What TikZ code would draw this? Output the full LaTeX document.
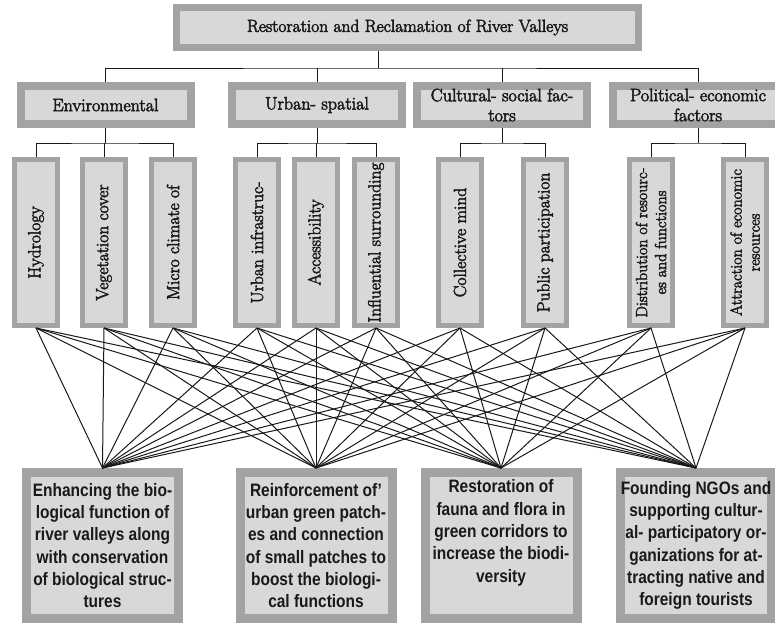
\documentclass[tikz,border=0pt]{standalone}
\usepackage{fontspec}
\usepackage{tikz}
\setmainfont{Latin Modern Roman}[FakeBold=3]
\newfontfamily\goalfont[FakeStretch=0.86]{Liberation Sans}

\definecolor{boxrim}{RGB}{163,163,163}
\definecolor{boxfill}{RGB}{216,216,216}
\tikzset{
  frame/.style={draw=boxrim, fill=boxfill, inner sep=0pt, align=center, text=black!90},
  titlebox/.style={frame, line width=7pt, minimum width=462pt, minimum height=40pt,
    font=\fontsize{17.5}{19}\selectfont},
  aspectbox/.style={frame, line width=8pt, minimum width=170pt, minimum height=38pt,
    font=\fontsize{18}{20}\selectfont},
  factorbox/.style={frame, line width=5pt, rotate=90, minimum width=166pt, minimum height=43pt,
    font=\fontsize{17.5}{19}\selectfont},
  goalbox/.style={frame, line width=9pt, minimum width=152pt, minimum height=146pt,
    font=\goalfont\bfseries\fontsize{18}{22.3}\selectfont},
  link/.style={draw=black!90, line width=1pt}
}

\begin{document}
\begin{tikzpicture}[x=1pt, y=-1pt]
    \useasboundingbox (0,0) rectangle (775,625);
    \clip (0,0) rectangle (775,625);

    % main title and the four aspects
    \node[titlebox] (top) at (407.5,27.5) {Restoration and Reclamation of River Valleys};
    \node[aspectbox] (env) at (105.5,105) {Environmental};
    \node[aspectbox] (urb) at (317,105) {Urban- spatial};
    \node[aspectbox] (cul) at (502,105) {Cultural- social fac-\\tors};
    \node[aspectbox] (pol) at (698,105) {Political- economic\\factors};

    % factors, written upwards
    \foreach \n/\x/\t in {hyd/36/Hydrology, veg/104/Vegetation cover, mic/173/Micro climate of,
        uin/257/Urban infrastruc-, acc/316/Accessibility, inf/376/Influential surrounding,
        col/460/Collective mind, pub/545/Public participation}
        \node[factorbox] (\n) at (\x,242.5) {\t};
    \node[factorbox, font=\fontsize{16}{19}\selectfont] (dis) at (651,242.5) {Distribution of resourc-\\es and functions};
    \node[factorbox, font=\fontsize{16}{18}\selectfont] (att) at (745,242.5) {Attraction of economic\\resources};

    % goals
    \node[goalbox] (g1) at (102.5,545.5) {Enhancing the bio-\\logical function of\\river valleys along\\with conservation\\of biological struc-\\tures};
    \node[goalbox] (g2) at (316,545.5) {Reinforcement of’\\urban green patch-\\es and connection\\of small patches to\\boost the biologi-\\cal functions};
    \node[goalbox] (g3) at (501,545.5) {Restoration of\\fauna and flora in\\green corridors to\\increase the biodi-\\versity\\\strut};
    \node[goalbox, minimum width=147pt] (g4) at (696,545.5) {Founding NGOs and\\supporting cultur-\\al- participatory or-\\ganizations for at-\\tracting native and\\foreign tourists};

    % tree
    \coordinate (split) at (378,68);
    \draw[link] (split |- top.south) -- (split);
    \draw[link] (env.north) |- (split) -| (pol.north);
    \draw[link] (urb.north) -- (urb.north |- split);
    \draw[link] (cul.north) -- (cul.north |- split);

    \foreach \p/\a/\b in {env/hyd/mic, urb/uin/inf, cul/col/pub, pol/dis/att} {
        \draw[link] (\p.south) -- ++(0,15) coordinate (\p-mid);
        \draw[link] (\a.east) |- (\p-mid) -| (\b.east);
    }
    \draw[link] (veg.east) -- (veg.east |- env-mid);
    \draw[link] (acc.east) -- (acc.east |- urb-mid);

    % every factor to every goal
    \foreach \f in {hyd,veg,mic,uin,acc,inf,col,pub,dis,att}
        \foreach \g in {g1,g2,g3,g4}
            \draw[link] (\f.west) -- (\g.north);
\end{tikzpicture}
\end{document}
